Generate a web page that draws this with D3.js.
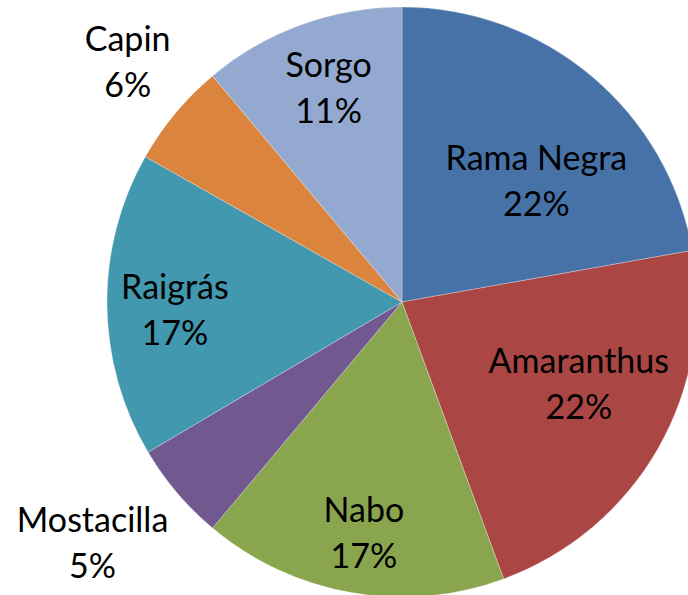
<!DOCTYPE html>
<html>
<head>
<meta charset="utf-8">
<script src="https://cdn.jsdelivr.net/npm/d3@7"></script>
<style>
    body { margin: 0; background: #fff; }
    svg { display: block; }
    .pie-label { font-family: Lato, "Open Sans", sans-serif; font-size: 34px; fill: #000; }
</style>
</head>
<body>
<svg id="chart" width="688" height="595"></svg>
<script>
// chart data (clockwise from 12 o'clock)
var categories = ["Rama Negra", "Amaranthus", "Nabo", "Mostacilla", "Raigrás", "Capin", "Sorgo"];
var values = [22.2, 22.2, 16.7, 5.4, 16.7, 5.7, 11.1];
var colors = ["#4672A8", "#AA4644", "#89A54E", "#71588F", "#4298AF", "#DB843D", "#93A9CF"];

// label placement: [radius from centre, angle nudge in degrees]
var labelPlace = [[173, 11], [200, -2], [246, -1], [400, 1], [228, -4.4], [357, 0], [215, 0]];

var WIDTH = 688, HEIGHT = 595;
var CX = 402, CY = 302, RADIUS = 295;
var LINE_GAP = 46;

var svg = d3.select("#chart");
var g = svg.append("g").attr("transform", "translate(" + CX + "," + CY + ")");

var total = d3.sum(values);
var pct = d3.format(".0%");

var pie = d3.pie().sort(null).value(function (d) { return d; });
var arcs = pie(values);

var arc = d3.arc().innerRadius(0).outerRadius(RADIUS);

g.selectAll("path.slice")
    .data(arcs)
    .enter().append("path")
    .attr("class", "slice")
    .attr("d", arc)
    .style("fill", function (d, i) { return colors[i]; })
    .style("stroke", "#fff")
    .style("stroke-opacity", 0.4)
    .style("stroke-width", 0.7);

/**
 * Position of a slice's label block (middle between its two lines)
 */
function labelPoint(d, i) {
    var mid = (d.startAngle + d.endAngle) / 2 + labelPlace[i][1] * Math.PI / 180;
    var r = labelPlace[i][0];
    return [Math.sin(mid) * r, -Math.cos(mid) * r];
}

var labels = g.selectAll("text.pie-label")
    .data(arcs)
    .enter().append("text")
    .attr("class", "pie-label")
    .attr("text-anchor", "middle")
    .attr("transform", function (d, i) {
        var p = labelPoint(d, i);
        return "translate(" + p[0] + "," + p[1] + ")";
    });

labels.append("tspan")
    .attr("x", 0)
    .attr("y", -LINE_GAP / 2)
    .text(function (d, i) { return categories[i]; });

labels.append("tspan")
    .attr("x", 0)
    .attr("y", LINE_GAP / 2)
    .text(function (d) { return pct(d.value / total); });
</script>
</body>
</html>
